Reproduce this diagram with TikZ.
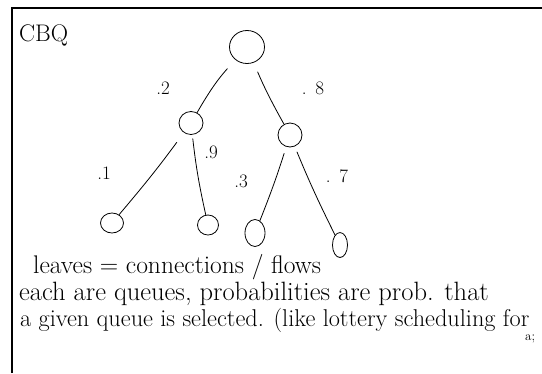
\documentclass[tikz,border=0pt]{standalone}
\usetikzlibrary{shapes.geometric}
\begin{document}
\begin{tikzpicture}[x=1pt,y=-1pt,
  ink/.style={line width=0.8pt,black},
  qnode/.style={ellipse,draw,ink,inner sep=0pt},
  prob/.style={font=\fontsize{19}{22}\selectfont,inner sep=0pt},
  note/.style={inner sep=0pt,anchor=base west},
  edge/.style={ink,line cap=round}]
\useasboundingbox (0,0) rectangle (542,373);
% page frame
\draw[line width=1.5pt] (12,373) -- (12,8) -- (542,8);

\node[font=\fontsize{24}{28}\selectfont,inner sep=0pt,anchor=base west] (title) at (19,41) {CBQ};

% class tree
\node[qnode,minimum width=35pt,minimum height=33pt] (root) at (247,47) {};
\node[qnode,minimum width=24pt,minimum height=23pt] (lm) at (191,123) {};
\node[qnode,minimum width=24pt,minimum height=24pt] (rm) at (290,135) {};
\node[qnode,minimum width=23pt,minimum height=20pt] (ll) at (112,223) {};
\node[qnode,minimum width=21pt,minimum height=20pt] (lr) at (208,225) {};
\node[qnode,minimum width=20pt,minimum height=27pt] (rl) at (255,233) {};
\node[qnode,minimum width=15pt,minimum height=25pt] (rr) at (340,245) {};

\draw[edge,shorten <=12pt] (root) to[bend right=6] (lm);
\draw[edge,shorten <=10pt] (root) to[bend right=3] (rm);
\draw[edge,shorten <=12pt] (lm) to[bend left=2] (ll);
\draw[edge,shorten <=4pt] (lm) to[bend right=3] (lr);
\draw[edge,shorten <=7pt] (rm) to[bend left=2] (rl);
\draw[edge,shorten <=6pt] (rm) to[bend right=2] (rr);

% branch probabilities
\node[prob] (p2) at (163,88) {.2};
\node[prob] (p8) at (313,88) {.\ \,8};
\node[prob] (p1) at (104,173) {.1};
\node[prob] (p9) at (211,152) {.9};
\node[prob] (p3) at (241,181) {.3};
\node[prob] (p7) at (337,176) {.\ \,7};

% notes
\node[note,font=\fontsize{25.5}{30}\selectfont] (n1) at (33,273) {leaves = connections / flows};
\node[note,font=\fontsize{26.5}{30}\selectfont] (n2) at (19,300) {each are queues, probabilities are prob. that};
\node[note,font=\fontsize{24.3}{30}\selectfont] (n3) at (20,326) {a given queue is selected. (like lottery scheduling for};
\node[font=\fontsize{13}{14}\selectfont,inner sep=0pt,anchor=base west] (n4) at (525,340) {a;};
\end{tikzpicture}
\end{document}
